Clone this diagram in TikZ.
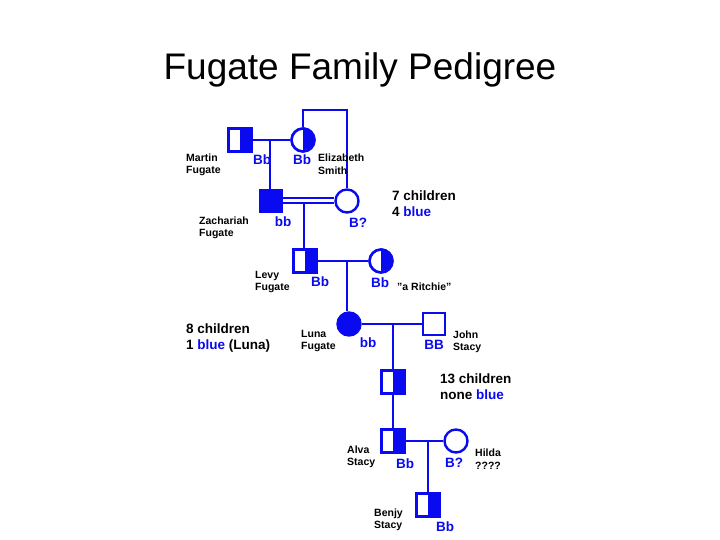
\documentclass[tikz,border=0pt]{standalone}
\usepackage{fontspec}
\setmainfont{Liberation Sans}
\definecolor{pb}{RGB}{10,10,240}
\begin{document}
\begin{tikzpicture}[x=1pt,y=-1pt,
  line/.style={pb,line width=2.6pt},
  male/.style={draw=pb,line width=2.4pt,minimum size=22pt,inner sep=0pt,fill=white},
  female/.style={circle,draw=pb,line width=2.4pt,minimum size=23pt,inner sep=0pt,fill=white},
  gt/.style={pb,font=\bfseries\fontsize{13.5}{14}\selectfont,inner sep=0pt},
  nm/.style={anchor=west,align=left,font=\bfseries\fontsize{10.5}{12.5}\selectfont,inner sep=0pt}]
\useasboundingbox (0,0) rectangle (720,540);
\node[font=\fontsize{37}{40}\selectfont] (title) at (360,70) {Fugate Family Pedigree};
% nodes
\node[male] (martin) at (240,140) {};
\node[female] (eliz) at (303,140) {};
\node[male,fill=pb] (zach) at (271,201) {};
\node[female] (bq) at (347,201) {};
\node[male] (levy) at (305,261) {};
\node[female] (ritchie) at (381,261) {};
\node[female,fill=pb] (luna) at (349,324) {};
\node[male] (john) at (434,324) {};
\node[male] (child) at (393,382) {};
\node[male] (alva) at (393,441) {};
\node[female] (hilda) at (456,441) {};
\node[male] (benjy) at (428,505) {};
% half fills
\foreach \n in {martin,levy,child,alva,benjy}{
  \fill[pb] (\n.north) rectangle (\n.south east);
  \draw[pb,line width=2.4pt] (\n.south west) rectangle (\n.north east);}
\foreach \n in {eliz,ritchie}{
  \fill[pb] (\n.north) arc[start angle=90,end angle=-90,radius=11.5pt] -- cycle;
  \draw[pb,line width=2.4pt] (\n.center) circle[radius=11.5pt];}
% connectors
\coordinate (m1) at (270,140);
\draw[line] (martin.east) -- (eliz.west);
\draw[line] (m1) -- (m1 |- zach.north);
\coordinate (e1) at (303,110);
\coordinate (e2) at (347,110);
\draw[line] (eliz.north) -- (e1) -- (e2) -- (bq.north);
\draw[pb,line width=2pt] ([yshift=-2.5pt]zach.east) -- ([yshift=-2.5pt]bq.west);
\draw[pb,line width=2pt] ([yshift=2.5pt]zach.east) -- ([yshift=2.5pt]bq.west);
\coordinate (z1) at (304,204);
\draw[line] (z1) -- (z1 |- levy.north);
\draw[line] (levy.east) -- (ritchie.west);
\coordinate (l1) at (347,261);
\draw[line] (l1) -- (l1 |- luna.north);
\draw[line] (luna.east) -- (john.west);
\coordinate (j1) at (393,324);
\draw[line] (j1) -- (child.north);
\draw[line] (child.south) -- (alva.north);
\draw[line] (alva.east) -- (hilda.west);
\coordinate (a1) at (428,441);
\draw[line] (a1) -- (benjy.north);
% labels
\node[gt] (g1) at (262,160) {Bb};
\node[gt] (g2) at (302,160) {Bb};
\node[nm] (n1) at (186,165) {Martin\\Fugate};
\node[nm] (n2) at (318,164) {Elizabeth\\Smith};
\node[nm] (n3) at (199,228) {Zachariah\\Fugate};
\node[gt] (g3) at (283,222) {bb};
\node[gt] (g4) at (358,223) {B?};
\node[nm,font=\bfseries\fontsize{13.5}{16}\selectfont] (c1) at (392,204) {7 children\\4 \textcolor{pb}{blue}};
\node[nm] (n4) at (255,282) {Levy\\Fugate};
\node[gt] (g5) at (320,282) {Bb};
\node[gt] (g6) at (380,283) {Bb};
\node[nm] (n5) at (397,287) {\char34 a Ritchie\char34};
\node[nm,font=\bfseries\fontsize{13.5}{16}\selectfont] (c2) at (186,338) {8 children\\1 \textcolor{pb}{blue} (Luna)};
\node[nm] (n6) at (301,341) {Luna\\Fugate};
\node[gt] (g7) at (368,343) {bb};
\node[gt] (g8) at (434,345) {BB};
\node[nm] (n7) at (453,342) {John\\Stacy};
\node[nm,font=\bfseries\fontsize{13.5}{16}\selectfont] (c3) at (440,387) {13 children\\none \textcolor{pb}{blue}};
\node[nm] (n8) at (347,457) {Alva\\Stacy};
\node[gt] (g9) at (405,464) {Bb};
\node[gt] (g10) at (454,463) {B?};
\node[nm] (n9) at (475,459) {Hilda\\????};
\node[nm] (n10) at (374,520) {Benjy\\Stacy};
\node[gt] (g11) at (445,527) {Bb};
\end{tikzpicture}
\end{document}
